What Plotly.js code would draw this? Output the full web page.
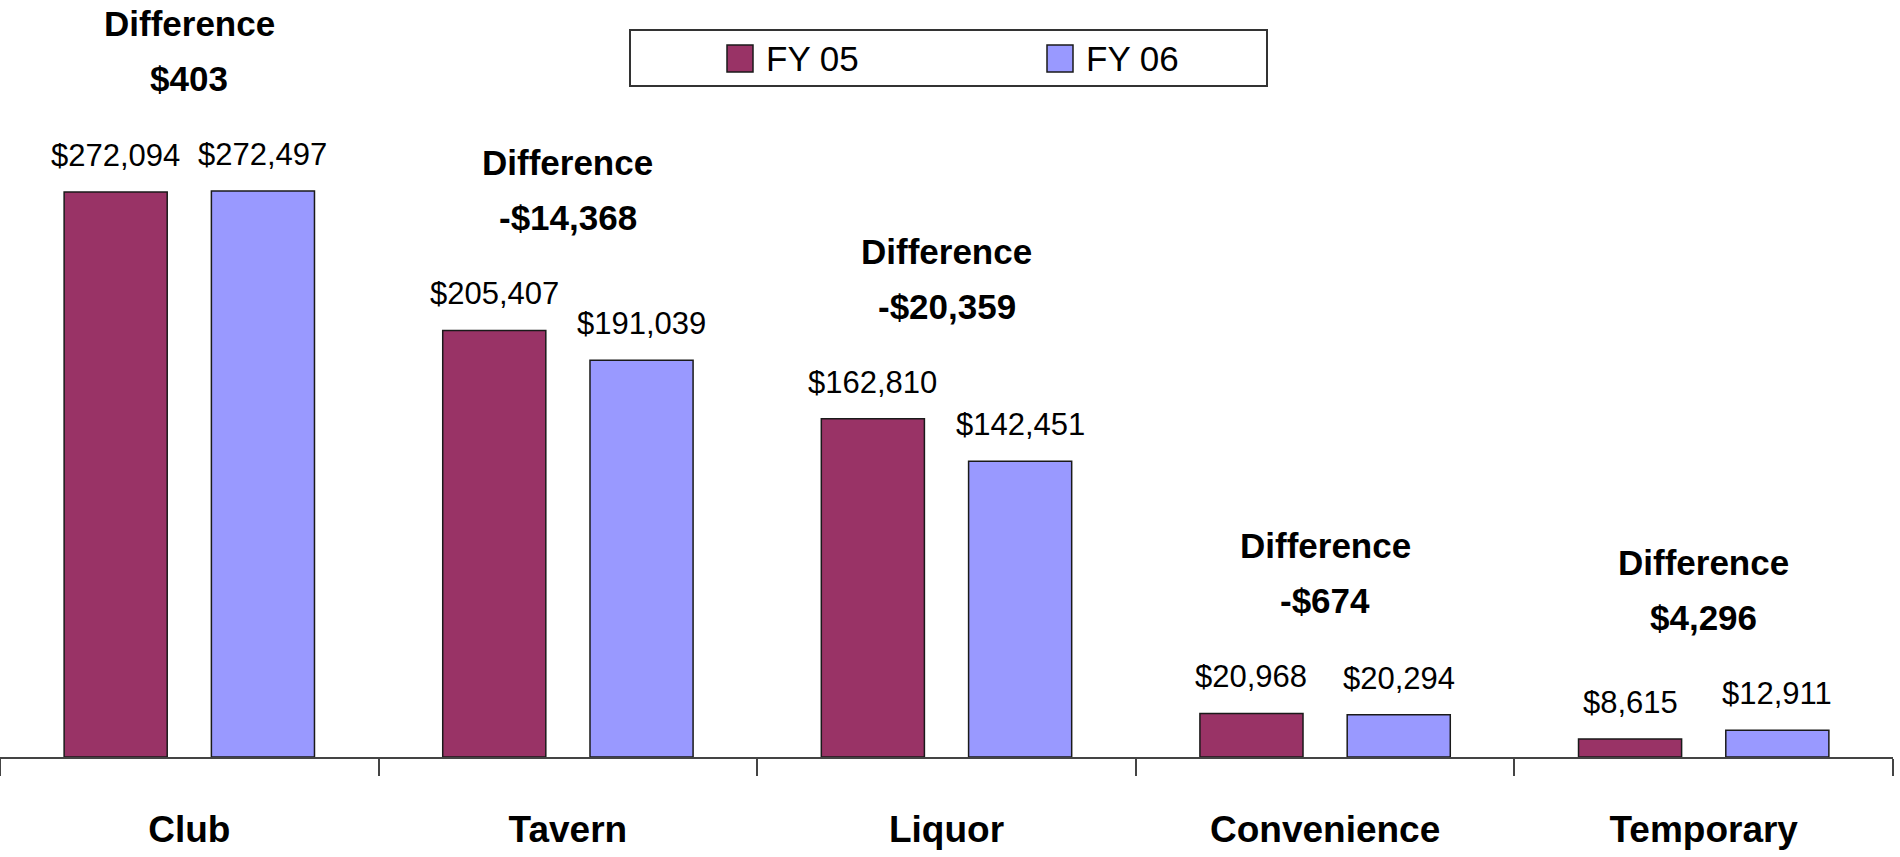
<!DOCTYPE html>
<html><head><meta charset="utf-8">
<script src="https://cdn.plot.ly/plotly-3.0.1.min.js"></script>
<style>html,body{margin:0;padding:0;background:#fff;}#chart{width:1900px;height:857px;}</style>
</head><body><div id="chart"></div>
<script>
// ---- data ----
const categories = ['Club', 'Tavern', 'Liquor', 'Convenience', 'Temporary'];
const seriesNames = ['FY 05', 'FY 06'];
const fy05 = [272094, 205407, 162810, 20968, 8615];
const fy06 = [272497, 191039, 142451, 20294, 12911];

// ---- styling / layout constants ----
const colors = ['#993366', '#9999FF'];
const W = 1900, H = 857;
const M = {l: 0, r: 7, t: 0, b: 100};
const plotW = W - M.l - M.r, plotH = H - M.t - M.b;
const bargap = 0.222, bargroupgap = 0.30;
const catW = plotW / categories.length;
const slot = catW * (1 - bargap) / 2;
const FONT = '"Liberation Sans", Arial, sans-serif';
const yMax = 364500;

const fmt = v => (v < 0 ? '-' : '') + '$' + Math.abs(v).toLocaleString('en-US');
const px2x = p => (p - M.l) / plotW;
const px2y = p => (H - M.b - p) / plotH;

const series = [fy05, fy06];
const traces = series.map((vals, j) => ({
  type: 'bar',
  name: seriesNames[j],
  x: categories,
  y: vals,
  marker: {color: colors[j], line: {color: '#1a1a1a', width: 1.5}},
  hoverinfo: 'x+y'
}));

const annotations = [];
categories.forEach((c, i) => {
  series.forEach((vals, j) => {
    annotations.push({
      x: c, y: vals[i], xref: 'x', yref: 'y',
      text: fmt(vals[i]), showarrow: false, yanchor: 'bottom',
      xshift: (j === 0 ? -1 : 1) * slot / 2, yshift: 17,
      font: {family: FONT, size: 31, color: '#000'}
    });
  });
  const diff = fy06[i] - fy05[i];
  const top = Math.max(fy05[i], fy06[i]);
  annotations.push({
    x: c, y: top, xref: 'x', yref: 'y',
    text: fmt(diff), showarrow: false, yanchor: 'bottom', yshift: 91,
    font: {family: FONT, size: 35, color: '#000', weight: 'bold'}
  });
  annotations.push({
    x: c, y: top, xref: 'x', yref: 'y',
    text: 'Difference', showarrow: false, yanchor: 'bottom', yshift: 146,
    font: {family: FONT, size: 35, color: '#000', weight: 'bold'}
  });
});

// manual legend (box, swatches, labels)
const shapes = [{
  type: 'rect', xref: 'paper', yref: 'paper',
  x0: px2x(630), x1: px2x(1267), y0: px2y(86), y1: px2y(30),
  line: {color: '#333', width: 2}, fillcolor: '#fff'
}];
const swX = [727, 1047], txtX = [764, 1084];
seriesNames.forEach((n, j) => {
  shapes.push({
    type: 'rect', xref: 'paper', yref: 'paper',
    x0: px2x(swX[j]), x1: px2x(swX[j] + 26), y0: px2y(72), y1: px2y(45),
    line: {color: '#1a1a1a', width: 1.5}, fillcolor: colors[j]
  });
  annotations.push({
    xref: 'paper', yref: 'paper', x: px2x(txtX[j]), y: px2y(58),
    xanchor: 'left', yanchor: 'middle', showarrow: false, text: n,
    font: {family: FONT, size: 35, color: '#000'}
  });
});

const layout = {
  width: W, height: H,
  margin: M,
  paper_bgcolor: '#fff', plot_bgcolor: '#fff',
  barmode: 'group', bargap: bargap, bargroupgap: bargroupgap,
  showlegend: false,
  xaxis: {
    type: 'category', tickson: 'boundaries', ticks: 'outside', ticklen: 17,
    tickwidth: 2, tickcolor: '#444', showline: true, linecolor: '#444', linewidth: 2,
    showgrid: false, zeroline: false, ticklabelstandoff: 39,
    tickfont: {family: FONT, size: 37, color: '#000', weight: 'bold'}
  },
  yaxis: {
    range: [0, yMax], visible: false, showgrid: false, zeroline: false
  },
  annotations: annotations,
  shapes: shapes
};

Plotly.newPlot('chart', traces, layout, {displayModeBar: false, staticPlot: true});
</script>
</body></html>
